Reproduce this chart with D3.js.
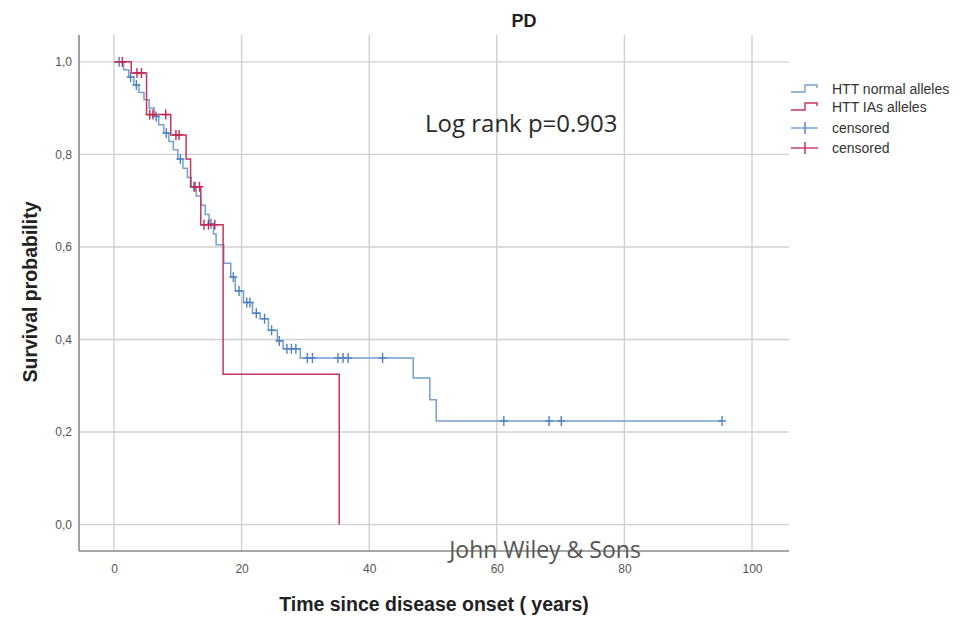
<!DOCTYPE html>
<html><head><meta charset="utf-8">
<script src="https://cdn.jsdelivr.net/npm/d3@7"></script>
<style>body{margin:0;background:#fff}</style>
</head><body>
<svg id="chart" width="966" height="620"></svg>
<script>
// ---------- data ----------
const chartTitle = "PD";
const xTicks = [0, 20, 40, 60, 80, 100];
const yTicks = [0, 0.2, 0.4, 0.6, 0.8, 1.0];

const normalEventTimes = [1.5, 2.3, 3.1, 3.9, 4.7, 5.5, 6.3, 7.0, 7.8, 8.6, 9.3, 10.0, 10.8, 11.5, 12.1, 12.9, 13.6, 14.3, 14.9, 15.6, 16.0, 17.2, 18.3, 19.0, 20.3, 21.7, 22.9, 24.2, 25.6, 26.5, 29.2, 46.9, 49.5, 50.5];
const normalSurvival   = [0.983, 0.967, 0.950, 0.934, 0.918, 0.900, 0.882, 0.864, 0.846, 0.828, 0.810, 0.790, 0.770, 0.750, 0.730, 0.710, 0.690, 0.670, 0.650, 0.628, 0.605, 0.565, 0.535, 0.505, 0.480, 0.457, 0.445, 0.420, 0.397, 0.380, 0.360, 0.317, 0.270, 0.224];
const normalCensored   = [0.8, 2.6, 3.5, 6.6, 8.2, 10.4, 12.5, 15.2, 18.7, 19.6, 20.8, 21.3, 22.3, 23.6, 24.7, 25.9, 27.1, 27.8, 28.5, 30.3, 31.1, 35.1, 35.9, 36.7, 42.1, 61.1, 68.2, 70.1, 95.3];
const normalLastTime   = 95.3;

const iasEventTimes = [2.7, 5.1, 8.9, 11.3, 12.0, 13.6, 17.1, 35.3];
const iasSurvival   = [0.976, 0.886, 0.842, 0.790, 0.730, 0.648, 0.325, 0.0];
const iasCensored   = [1.3, 3.6, 4.3, 5.6, 6.1, 8.1, 9.7, 10.2, 12.7, 13.4, 14.1, 14.8, 15.8];
const iasLastTime   = 35.3;

const legendLabels = ["HTT normal alleles", "HTT IAs alleles", "censored", "censored"];
const annotation = "Log rank p=0.903";
const watermark = "John Wiley & Sons";
const xTitle = "Time since disease onset ( years)";
const yTitle = "Survival probability";

// ---------- styles ----------
const blueLine = "#74a0d2", blueMark = "#4f80c0";
const redLine = "#c8355e", redMark = "#c22a55";
const gridColor = "#d0d0d0", axisColor = "#8a8a8a";

const svg = d3.select("#chart");
const L = 79, R = 789, T = 35, B = 551;
const x = d3.scaleLinear().domain([-5.49, 105.8]).range([L, R]);
const y = d3.scaleLinear().domain([-0.057, 1.058]).range([B, T]);
const locale = d3.formatLocale({decimal: ",", thousands: ".", grouping: [3], currency: ["", ""]});
const yFmt = locale.format(".1f");

// gridlines
svg.append("g").selectAll("line.hg").data(yTicks).join("line")
  .attr("x1", L).attr("x2", R).attr("y1", d => y(d)).attr("y2", d => y(d))
  .attr("stroke", gridColor).attr("stroke-width", 1.4);
svg.append("g").selectAll("line.vg").data(xTicks).join("line")
  .attr("y1", T).attr("y2", B).attr("x1", d => x(d)).attr("x2", d => x(d))
  .attr("stroke", gridColor).attr("stroke-width", 1.4);

// axes
const xAxis = svg.append("g").attr("transform", `translate(0,${B})`)
  .call(d3.axisBottom(x).tickValues(xTicks).tickSize(0).tickPadding(13).tickFormat(d3.format("d")));
const yAxis = svg.append("g").attr("transform", `translate(${L},0)`)
  .call(d3.axisLeft(y).tickValues(yTicks).tickSize(0).tickPadding(7).tickFormat(yFmt));
[xAxis, yAxis].forEach(g => {
  g.select(".domain").attr("stroke", axisColor).attr("stroke-width", 1.6);
  g.selectAll("text").attr("font-family", "Liberation Sans, Arial, sans-serif")
    .attr("font-size", 12).attr("fill", "#555");
});
xAxis.select(".domain").attr("d", `M${L},0H${R}`);
yAxis.select(".domain").attr("d", `M0,${T}V${B}`);

// step function helpers
function survAt(times, surv, t) {
  let s = 1;
  for (let i = 0; i < times.length; i++) if (times[i] <= t) s = surv[i];
  return s;
}
const line = d3.line().x(d => x(d[0])).y(d => y(d[1])).curve(d3.curveStepAfter);

function drawGroup(times, surv, last, censored, lc, mc) {
  const pts = [[0, 1]].concat(times.map((t, i) => [t, surv[i]]));
  if (last > times[times.length - 1]) pts.push([last, surv[surv.length - 1]]);
  svg.append("path").attr("d", line(pts)).attr("fill", "none")
    .attr("stroke", lc).attr("stroke-width", 1.5);
  const g = svg.append("g").attr("stroke", mc).attr("stroke-width", 1.4);
  censored.forEach(t => {
    const cx = x(t), cy = y(survAt(times, surv, t));
    g.append("line").attr("x1", cx).attr("x2", cx).attr("y1", cy - 5).attr("y2", cy + 5);
    g.append("line").attr("x1", cx - 4).attr("x2", cx + 4).attr("y1", cy).attr("y2", cy);
  });
}
drawGroup(normalEventTimes, normalSurvival, normalLastTime, normalCensored, blueLine, blueMark);
drawGroup(iasEventTimes, iasSurvival, iasLastTime, iasCensored, redLine, redMark);

// title & axis titles
svg.append("text").attr("x", 524).attr("y", 27).attr("text-anchor", "middle")
  .attr("font-family", "Liberation Sans, Arial, sans-serif").attr("font-weight", "bold")
  .attr("font-size", 18).attr("fill", "#222").text(chartTitle);
svg.append("text").attr("x", 434).attr("y", 611).attr("text-anchor", "middle")
  .attr("font-family", "Liberation Sans, Arial, sans-serif").attr("font-weight", "bold")
  .attr("font-size", 19.5).attr("fill", "#222").text(xTitle);
svg.append("text").attr("transform", "translate(37,292) rotate(-90)").attr("text-anchor", "middle")
  .attr("font-family", "Liberation Sans, Arial, sans-serif").attr("font-weight", "bold")
  .attr("font-size", 19.5).attr("fill", "#222").text(yTitle);

// annotation + watermark
svg.append("text").attr("x", 425).attr("y", 132)
  .attr("font-family", "Open Sans, sans-serif").attr("font-size", 24).attr("fill", "#2a2a2a").text(annotation);
svg.append("text").attr("x", 545).attr("y", 558).attr("text-anchor", "middle")
  .attr("font-family", "Open Sans, sans-serif").attr("font-size", 23).attr("fill", "#555").text(watermark);

// legend
const lg = svg.append("g").attr("font-family", "Liberation Sans, Arial, sans-serif").attr("font-size", 14).attr("fill", "#333");
const rowY = [89, 107, 128, 148];
const legColors = [[blueLine, null], [redLine, null], [blueLine, blueMark], [redLine, redMark]];
legendLabels.forEach((lab, i) => {
  const yy = rowY[i];
  if (i < 2) {
    lg.append("path").attr("d", `M791,${yy + 3}H805V${yy - 4}H817V${yy - 1}`)
      .attr("fill", "none").attr("stroke", legColors[i][0]).attr("stroke-width", 1.4);
  } else {
    lg.append("line").attr("x1", 791).attr("x2", 818).attr("y1", yy).attr("y2", yy)
      .attr("stroke", legColors[i][0]).attr("stroke-width", 1.4);
    lg.append("line").attr("x1", 805).attr("x2", 805).attr("y1", yy - 6).attr("y2", yy + 6)
      .attr("stroke", legColors[i][1]).attr("stroke-width", 1.4);
  }
  lg.append("text").attr("x", 832).attr("y", yy + 5).text(lab);
});
</script>
</body></html>
